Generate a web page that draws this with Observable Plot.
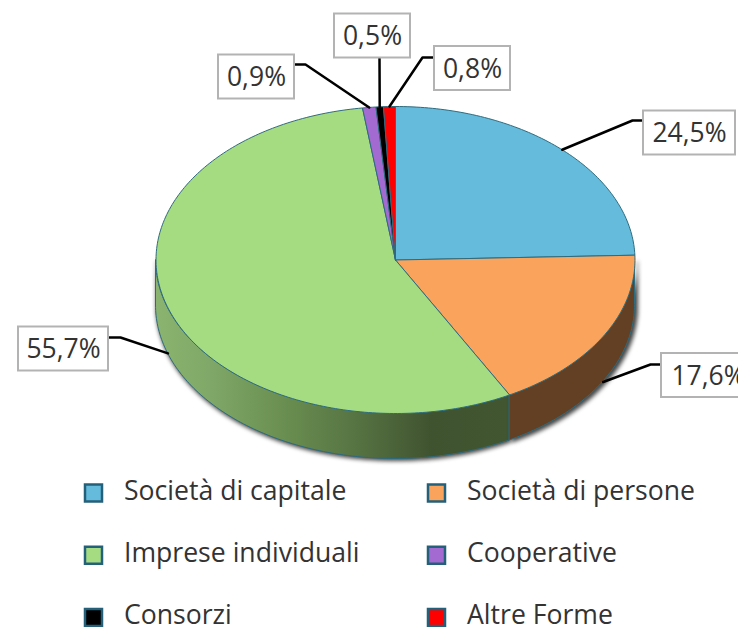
<!DOCTYPE html>
<html>
<head>
<meta charset="utf-8">
<style>html,body{margin:0;padding:0;background:#fff;overflow:hidden}</style>
<script src="https://cdn.jsdelivr.net/npm/d3@7"></script>
<script src="https://cdn.jsdelivr.net/npm/@observablehq/plot@0.6"></script>
</head>
<body>
<div id="chart"></div>
<script>
const categories = ["Società di capitale", "Società di persone", "Imprese individuali", "Cooperative", "Consorzi", "Altre Forme"];
const shares = [24.5, 17.6, 55.7, 0.9, 0.5, 0.8];
const shareLabels = ["24,5%", "17,6%", "55,7%", "0,9%", "0,5%", "0,8%"];
const colors = ["#65bbdc", "#f9a35c", "#a5dc82", "#a36ad1", "#000000", "#ff0000"];
const sideColors = ["#634024"];

// Layout (unit: pie radius on x, pie radius on y), kept apart from the data
const W = 738, H = 627;
const CX = 395, CY = 259.5, RX = 239.5, RY = 153.5, DEPTH = 45.5;
const xDomain = [-CX / RX, (W - CX) / RX];
const yDomain = [-CY / RY, (H - CY) / RY];
const depth = DEPTH / RY;
const labelBoxes = [[689, 132.5, 92], [708, 375, 94], [63, 348.5, 90], [256, 76.5, 76], [372, 35.5, 76], [472, 68, 76]];
const elbows = [[632, 120], [650, 364], [120, 337], [305, 64], [379, 58], [422, 57]];
const boxEnds = [[643, 120], [661, 364], [108, 337], [294, 64], [379, 58], [434, 57]];
const px = x => (x - CX) / RX, py = y => (y - CY) / RY;

const pt = (deg, drop = 0) => ({x: Math.sin(deg * Math.PI / 180), y: -Math.cos(deg * Math.PI / 180) + drop});
const stops = d3.cumsum(shares).map(v => v * 3.6);
const starts = [0, ...stops.slice(0, -1)];
const arcRange = (a, b) => { const n = Math.max(2, Math.ceil(b - a)); return d3.range(n + 1).map(i => a + (b - a) * i / n); };

const sectors = categories.flatMap((name, i) => {
  const rim = arcRange(starts[i], stops[i]).map(a => ({...pt(a), name}));
  return [{x: 0, y: 0, name}, ...rim, {x: 0, y: 0, name}];
});
const band = (a, b) => arcRange(a, b).map(d => { const p = pt(d); return {x: p.x, y1: p.y, y2: p.y + depth}; });
const sideOrange = band(90, stops[1]);
const sideGreen = band(stops[1], 270);

const leaders = categories.flatMap((name, i) => {
  const mid = (starts[i] + stops[i]) / 2;
  const onSide = mid > 90 && mid < 270;
  const a = pt(mid, onSide ? depth : 0);
  return [
    {x: px(boxEnds[i][0]), y: py(boxEnds[i][1]), name},
    {x: px(elbows[i][0]), y: py(elbows[i][1]), name},
    {x: a.x, y: a.y, name}
  ];
});
const labels = categories.map((name, i) => ({
  label: shareLabels[i],
  x: px(labelBoxes[i][0]), y: py(labelBoxes[i][1]),
  x1: px(labelBoxes[i][0] - labelBoxes[i][2] / 2), x2: px(labelBoxes[i][0] + labelBoxes[i][2] / 2),
  y1: py(labelBoxes[i][1] - 22), y2: py(labelBoxes[i][1] + 22)
}));
const legend = categories.map((name, i) => ({
  name,
  sx: px(i % 2 ? 436 : 93),
  tx: px(i % 2 ? 466.5 : 123.5),
  sy: py(492.5 + 62.2 * Math.floor(i / 2)),
  y: py(491 + 62 * Math.floor(i / 2))
}));

const FONT = "'Open Sans', sans-serif";
const EDGE = "#2f6b7e";

const defs = () => {
  const ns = "http://www.w3.org/2000/svg";
  const d = document.createElementNS(ns, "defs");
  const g = document.createElementNS(ns, "linearGradient");
  g.setAttribute("id", "sideGreen");
  [[0, "#8ab46f"], [0.15, "#80a868"], [0.35, "#6b9052"], [0.55, "#587644"], [0.78, "#405330"], [1, "#425631"]].forEach(([o, c]) => {
    const s = document.createElementNS(ns, "stop");
    s.setAttribute("offset", o); s.setAttribute("stop-color", c);
    g.appendChild(s);
  });
  d.appendChild(g);
  return d;
};

const chart = Plot.plot({
  width: W, height: H,
  margin: 0,
  style: {background: "#fff", fontFamily: FONT, overflow: "hidden"},
  x: {domain: xDomain, range: [0, W], axis: null},
  y: {domain: yDomain, range: [0, H], axis: null},
  color: {type: "ordinal", domain: categories, range: colors},
  marks: [
    defs,
    Plot.areaY(sideGreen, {x: "x", y1: "y1", y2: "y2", fill: "url(#sideGreen)", stroke: EDGE, strokeWidth: 1, imageFilter: "drop-shadow(1px 2px 2px #000b)"}),
    Plot.areaY(sideOrange, {x: "x", y1: "y1", y2: "y2", fill: sideColors[0], stroke: EDGE, strokeWidth: 1, imageFilter: "drop-shadow(3px 2px 2px #000b)"}),
    Plot.line(sectors, {x: "x", y: "y", z: "name", fill: "name", stroke: EDGE, strokeWidth: 1, curve: "linear"}),
    Plot.line(leaders, {x: "x", y: "y", z: "name", stroke: "#000", strokeWidth: 2.5, curve: "linear"}),
    Plot.rect(labels, {x1: "x1", x2: "x2", y1: "y1", y2: "y2", fill: "#fff", stroke: "#b3b3b3", strokeWidth: 2}),
    Plot.text(labels, {x: "x", y: "y", dy: 1, text: "label", fontSize: 26.5, fill: "#333", fontFamily: FONT}),
    Plot.dot(legend, {x: "sx", y: "sy", r: 9.6, symbol: "square", fill: "name", stroke: "#24607a", strokeWidth: 2.5}),
    Plot.text(legend, {x: "tx", y: "y", text: "name", textAnchor: "start", fontSize: 26.6, fill: "#333", fontFamily: FONT})
  ]
});
document.getElementById("chart").appendChild(chart);
</script>
</body>
</html>
